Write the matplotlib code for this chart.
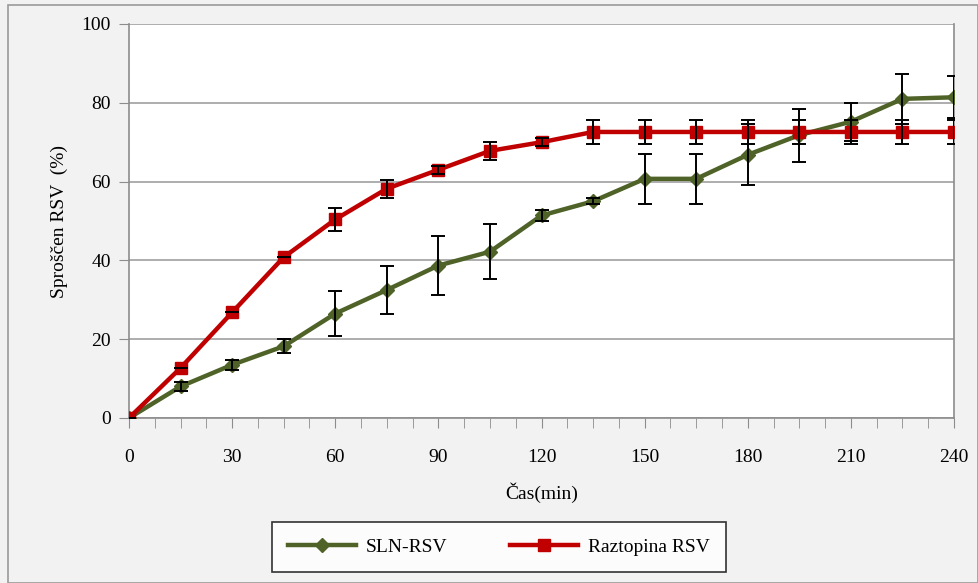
import numpy as np
import matplotlib.pyplot as plt
from matplotlib.patches import Rectangle

# data
time_min = [0, 15, 30, 45, 60, 75, 90, 105, 120, 135, 150, 165, 180, 195, 210, 225, 240]
sln_rsv = [0, 8, 13.5, 18.2, 26.5, 32.5, 38.7, 42.2, 51.4, 55, 60.7, 60.7, 66.8, 71.8, 75.2, 81, 81.4]
sln_err = [0, 1.2, 1.2, 1.8, 5.8, 6, 7.6, 7, 1.5, 0.8, 6.4, 6.4, 7.7, 6.7, 4.8, 6.4, 5.3]
raztopina_rsv = [0, 12.7, 26.8, 40.8, 50.4, 58.2, 63, 67.8, 70, 72.6, 72.6, 72.6, 72.6, 72.6, 72.6, 72.6, 72.6]
raztopina_err = [0, 0, 0, 0, 3, 2.3, 1, 2.3, 1, 3, 3, 3, 3, 3, 3, 3, 3]

plt.rcParams['font.family'] = ['Liberation Serif', 'DejaVu Serif']

fig = plt.figure(figsize=(9.79, 5.83), dpi=100)
fig.patch.set_facecolor('#F2F2F2')
fig.patches.append(Rectangle((8/979, 0), 970/979, 578/583, transform=fig.transFigure,
                             fill=False, edgecolor='#9A9A9A', linewidth=1.2))

ax = fig.add_axes([129/979, 165/583, 825/979, 394/583])
ax.set_facecolor('white')

ax.plot(time_min, sln_rsv, color='#4F6228', linewidth=3.2, marker='D', markersize=7,
        label='SLN-RSV', zorder=3)
ax.errorbar(time_min, sln_rsv, yerr=sln_err, fmt='none', ecolor='black', elinewidth=1.4,
            capsize=5, capthick=1.4, zorder=4)
ax.plot(time_min, raztopina_rsv, color='#C00000', linewidth=3.2, marker='s', markersize=8,
        label='Raztopina RSV', zorder=3)
ax.errorbar(time_min, raztopina_rsv, yerr=raztopina_err, fmt='none', ecolor='black', elinewidth=1.4,
            capsize=5, capthick=1.4, zorder=4)

ax.set_xlim(0, 240)
ax.set_ylim(0, 100)
ax.set_xticks(np.arange(0, 241, 30))
ax.set_xticks(np.arange(0, 241, 7.5), minor=True)
ax.set_yticks(np.arange(0, 101, 20))
ax.yaxis.grid(True, color='#A0A0A0', linewidth=1.2)
ax.set_axisbelow(True)
for s in ['left', 'bottom', 'right', 'top']:
    ax.spines[s].set_color('#8C8C8C')
    ax.spines[s].set_linewidth(1.2)
ax.spines['top'].set_visible(False)
ax.tick_params(axis='x', which='both', length=7, color='#8C8C8C', labelsize=14, pad=15)
ax.tick_params(axis='y', length=7, color='#8C8C8C', labelsize=14, pad=6)

ax.set_xlabel('Čas(min)', fontsize=14, labelpad=12)
ax.set_ylabel('Sproščen RSV  (%)', fontsize=14, labelpad=10)

leg = fig.legend(loc='center', bbox_to_anchor=(499/979, 1 - 547/583), ncol=2, fontsize=14,
                 frameon=True, fancybox=False, edgecolor='black', handlelength=3.5,
                 columnspacing=3.2, borderpad=0.85, handletextpad=0.5)
leg.get_frame().set_linewidth(1.2)

plt.savefig('out.png', dpi=100, facecolor=fig.get_facecolor())
